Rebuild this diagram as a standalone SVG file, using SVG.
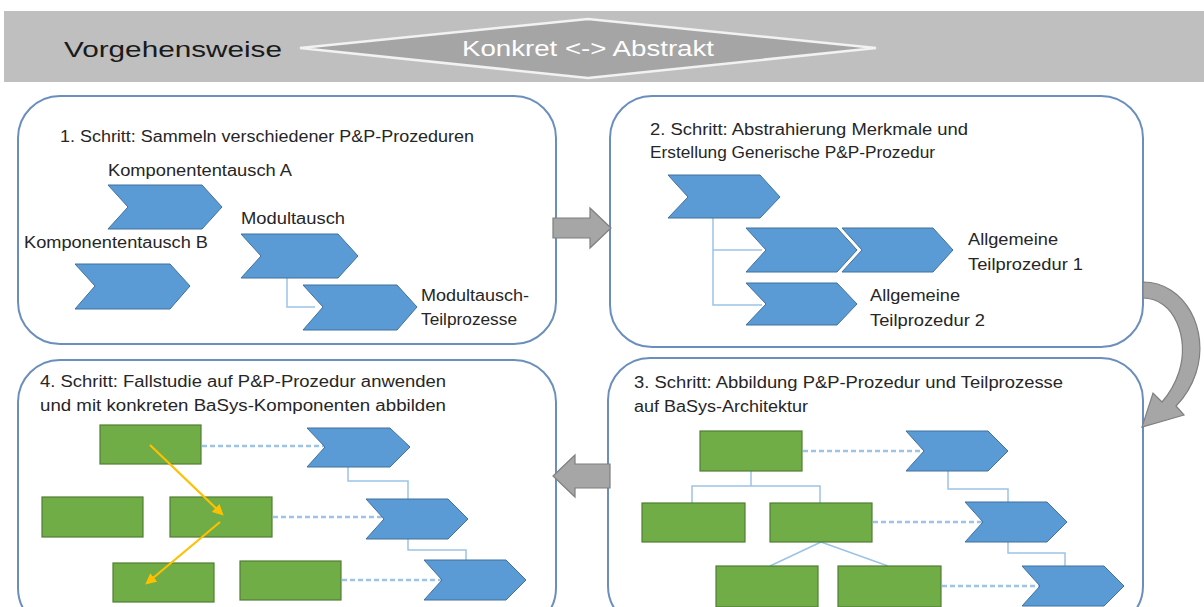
<svg xmlns="http://www.w3.org/2000/svg" width="1204" height="607" viewBox="0 0 1204 607">
<style>
  .box{fill:#ffffff;stroke:#6b8fbd;stroke-width:2}
  .chev{fill:#5b9bd5;stroke:#41719c;stroke-width:1}
  .grn{fill:#70ad47;stroke:#507e32;stroke-width:1.2}
  .con{fill:none;stroke:#9dc3e6;stroke-width:1.5}
  .dash{fill:none;stroke:#9dc3e6;stroke-width:2.5;stroke-dasharray:5 3}
  .bigarrow{fill:#a6a6a6;stroke:#7f7f7f;stroke-width:1.2}
  .t{font-family:"Liberation Sans",Arial,sans-serif;font-size:16px;fill:#262626}
  .h{font-family:"Liberation Sans",Arial,sans-serif;font-size:22px}
  .orange{fill:none;stroke:#ffc000;stroke-width:2.2}
</style>
<defs>
  <marker id="oh" viewBox="0 0 10 10" refX="8" refY="5" markerWidth="5" markerHeight="5" orient="auto">
    <path d="M0,0 L10,5 L0,10 Z" fill="#ffc000"/>
  </marker>
</defs>
<rect x="0" y="0" width="1204" height="607" fill="#ffffff"/>
<g id="header">
  <rect x="4" y="11" width="1200" height="71" fill="#bfbfbf"/>
  <text class="h" x="64" y="57" fill="#1a1a1a" textLength="218" lengthAdjust="spacingAndGlyphs">Vorgehensweise</text>
  <polygon points="300,48 588,19 876,48 588,78" fill="#a5a5a5" stroke="#f2f2f2" stroke-width="2.5"/>
  <text class="h" x="462" y="56" fill="#ffffff" textLength="252" lengthAdjust="spacingAndGlyphs">Konkret &lt;-&gt; Abstrakt</text>
</g>
<g id="step1">
  <rect class="box" x="18" y="96" width="538" height="248" rx="42"/>
  <text class="t" x="60" y="142" textLength="414" lengthAdjust="spacingAndGlyphs">1. Schritt: Sammeln verschiedener P&amp;P-Prozeduren</text>
  <text class="t" x="108" y="176" textLength="184" lengthAdjust="spacingAndGlyphs">Komponententausch A</text>
  <polygon class="chev" points="108,185 202,185 222,207 202,229 108,229 128,207"/>
  <text class="t" x="24" y="248" textLength="184" lengthAdjust="spacingAndGlyphs">Komponententausch B</text>
  <polygon class="chev" points="75,264 170,264 190,286 170,309 75,309 95,286"/>
  <text class="t" x="241" y="224" textLength="104" lengthAdjust="spacingAndGlyphs">Modultausch</text>
  <polyline class="con" points="287,278 287,307 315,307"/>
  <polygon class="chev" points="241,234 338,234 358,256 338,278 241,278 261,256"/>
  <polygon class="chev" points="303,285 397,285 417,307 397,330 303,330 323,307"/>
  <text class="t" x="421" y="301" textLength="108" lengthAdjust="spacingAndGlyphs">Modultausch-</text>
  <text class="t" x="421" y="325" textLength="96" lengthAdjust="spacingAndGlyphs">Teilprozesse</text>
</g>
<g id="step2">
  <rect class="box" x="610" y="96" width="533" height="251" rx="42"/>
  <text class="t" x="650" y="135" textLength="318" lengthAdjust="spacingAndGlyphs">2. Schritt: Abstrahierung Merkmale und</text>
  <text class="t" x="650" y="158" textLength="285" lengthAdjust="spacingAndGlyphs">Erstellung Generische P&amp;P-Prozedur</text>
  <polyline class="con" points="713,218 713,305 762,305"/>
  <line class="con" x1="713" y1="250" x2="762" y2="250"/>
  <polygon class="chev" points="668,175 760,175 780,197 760,218 668,218 688,197"/>
  <polygon class="chev" points="746,228 837,228 857,250 837,272 746,272 766,250"/>
  <polygon class="chev" points="842,228 933,228 953,250 933,272 842,272 862,250" stroke="#ffffff" stroke-width="1.5"/>
  <polygon class="chev" points="746,283 837,283 857,304 837,325 746,325 766,304"/>
  <text class="t" x="968" y="245" textLength="90" lengthAdjust="spacingAndGlyphs">Allgemeine</text>
  <text class="t" x="968" y="270" textLength="115" lengthAdjust="spacingAndGlyphs">Teilprozedur 1</text>
  <text class="t" x="870" y="301" textLength="90" lengthAdjust="spacingAndGlyphs">Allgemeine</text>
  <text class="t" x="870" y="326" textLength="115" lengthAdjust="spacingAndGlyphs">Teilprozedur 2</text>
</g>
<g id="step3">
  <rect class="box" x="608" y="358" width="535" height="270" rx="42"/>
  <text class="t" x="634" y="388" textLength="429" lengthAdjust="spacingAndGlyphs">3. Schritt: Abbildung P&amp;P-Prozedur und Teilprozesse</text>
  <text class="t" x="634" y="412" textLength="174" lengthAdjust="spacingAndGlyphs">auf BaSys-Architektur</text>
  <polyline class="con" points="751,471 751,486"/>
  <polyline class="con" points="692,503 692,486 820,486 820,503"/>
  <line class="con" x1="821" y1="542" x2="770" y2="566"/>
  <line class="con" x1="821" y1="542" x2="888" y2="566"/>
  <polyline class="con" points="948,471 948,489 1008,489 1008,502"/>
  <polyline class="con" points="1008,542 1008,553 1065,553 1065,566"/>
  <rect class="grn" x="700" y="431" width="102" height="40"/>
  <rect class="grn" x="642" y="503" width="103" height="39"/>
  <rect class="grn" x="770" y="503" width="102" height="39"/>
  <rect class="grn" x="716" y="566" width="102" height="41"/>
  <rect class="grn" x="838" y="566" width="103" height="41"/>
  <line class="dash" x1="803" y1="451" x2="924" y2="451"/>
  <line class="dash" x1="873" y1="522" x2="983" y2="522"/>
  <line class="dash" x1="942" y1="586" x2="1040" y2="586"/>
  <polygon class="chev" points="906,431 988,431 1008,451 988,471 906,471 924,451"/>
  <polygon class="chev" points="965,502 1047,502 1067,522 1047,542 965,542 983,522"/>
  <polygon class="chev" points="1022,566 1104,566 1124,586 1104,606 1022,606 1040,586"/>
</g>
<g id="step4">
  <rect class="box" x="18" y="360" width="538" height="270" rx="42"/>
  <text class="t" x="40" y="387" textLength="406" lengthAdjust="spacingAndGlyphs">4. Schritt: Fallstudie auf P&amp;P-Prozedur anwenden</text>
  <text class="t" x="40" y="411" textLength="406" lengthAdjust="spacingAndGlyphs">und mit konkreten BaSys-Komponenten abbilden</text>
  <polyline class="con" points="348,467 348,481 408,481 408,499"/>
  <polyline class="con" points="408,539 408,550 466,550 466,560"/>
  <rect class="grn" x="100" y="425" width="101" height="39"/>
  <rect class="grn" x="42" y="497" width="101" height="40"/>
  <rect class="grn" x="170" y="497" width="102" height="40"/>
  <rect class="grn" x="113" y="563" width="101" height="39"/>
  <rect class="grn" x="240" y="561" width="101" height="39"/>
  <line class="dash" x1="202" y1="446" x2="325" y2="446"/>
  <line class="dash" x1="273" y1="517" x2="384" y2="517"/>
  <line class="dash" x1="342" y1="580" x2="441" y2="580"/>
  <polygon class="chev" points="307,428 390,428 410,447 390,467 307,467 325,447"/>
  <polygon class="chev" points="366,499 448,499 468,519 448,539 366,539 384,519"/>
  <polygon class="chev" points="424,560 506,560 526,580 506,600 424,600 442,580"/>
  <line class="orange" x1="150" y1="445" x2="222" y2="514" marker-end="url(#oh)"/>
  <line class="orange" x1="220" y1="522" x2="147" y2="583" marker-end="url(#oh)"/>
</g>
<g id="connectors">
  <path class="bigarrow" d="M553,218 L590,218 L590,208 L611,228 L590,248 L590,238 L553,238 Z"/>
  <path class="bigarrow" d="M1143,282 C1185,282 1210,330 1196,373 C1191,388 1184,398 1176,406 L1184,415 L1142,427 L1153,393 L1162,402 C1169,394 1175,384 1179,372 C1190,338 1174,298 1143,298 Z"/>
  <path class="bigarrow" d="M610,464 L575,464 L575,455 L553,476 L575,497 L575,488 L610,488 Z"/>
</g>
</svg>
